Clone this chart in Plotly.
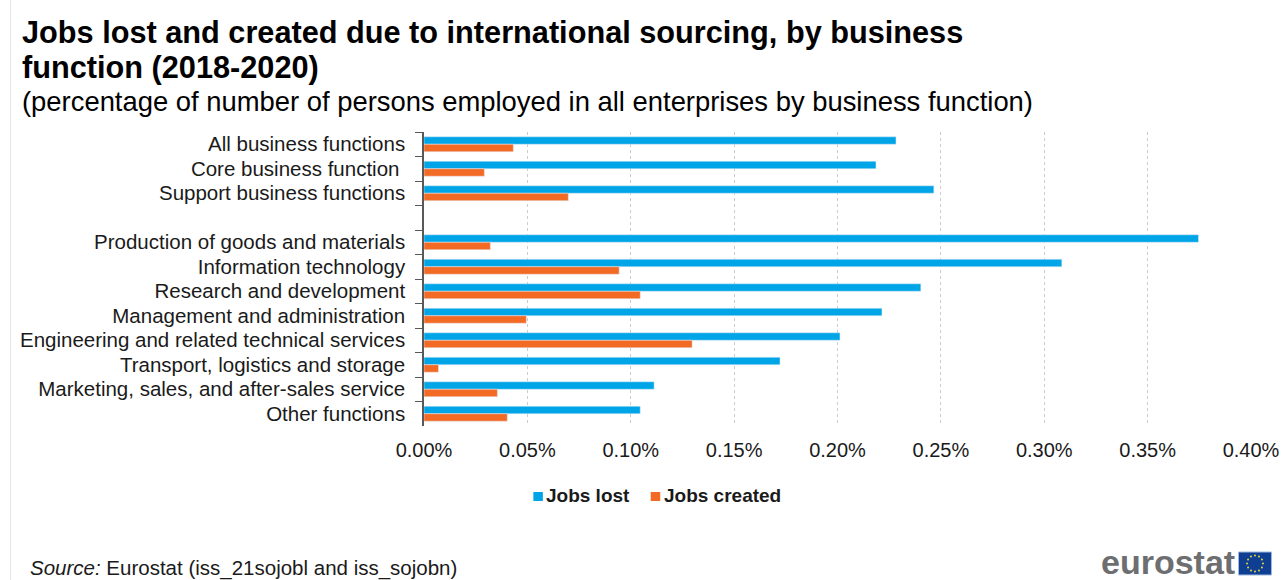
import math
import plotly.graph_objects as go

categories = [
    "All business functions", "Core business function\u00a0", "Support business functions", "\u00a0",
    "Production of goods and materials", "Information technology", "Research and development",
    "Management and administration", "Engineering and related technical services",
    "Transport, logistics and storage", "Marketing, sales, and after-sales service", "Other functions",
]
jobs_lost = [0.2283, 0.2186, 0.2466, None, 0.3746, 0.3085, 0.2403, 0.2215, 0.2012, 0.1722, 0.1113, 0.1046]
jobs_created = [0.0432, 0.0292, 0.0698, None, 0.0321, 0.0944, 0.1046, 0.0495, 0.1297, 0.0070, 0.0355, 0.0403]
x_ticks = [0, 0.05, 0.10, 0.15, 0.20, 0.25, 0.30, 0.35, 0.40]
x_tick_labels = ["0.00%", "0.05%", "0.10%", "0.15%", "0.20%", "0.25%", "0.30%", "0.35%", "0.40%"]

BLUE, ORANGE = "#00A5E8", "#F36A25"
FONT = "Liberation Sans"
W, H = 1287, 580
LEFT, RIGHT, TOP, BOTTOM = 423.5, 1251.5, 132, 426


def px(x):
    # page pixel to paper fraction of the plot area
    return (x - LEFT) / (RIGHT - LEFT)


def py(y):
    return 1 - (y - TOP) / (BOTTOM - TOP)


def text(x, y, s, size, color="#000000", anchor="left"):
    return dict(xref="paper", yref="paper", x=px(x), y=py(y), text=s, showarrow=False,
                xanchor=anchor, yanchor="middle", borderpad=0, borderwidth=0,
                font=dict(family=FONT, size=size, color=color))


def box(x0, y0, x1, y1, fill, line=None):
    return dict(type="rect", xref="paper", yref="paper", x0=px(x0), x1=px(x1), y0=py(y0), y1=py(y1),
                fillcolor=fill, line=dict(color=line, width=1) if line else dict(width=0))


fig = go.Figure()
fig.add_bar(y=categories, x=jobs_lost, name="Jobs lost", orientation="h", marker_color=BLUE)
fig.add_bar(y=categories, x=jobs_created, name="Jobs created", orientation="h", marker_color=ORANGE)

annotations = [
    text(21, 33, "<b>Jobs lost and created due to international sourcing, by business</b>", 30.7),
    text(21, 67, "<b>function (2018-2020)</b>", 30.7),
    text(21, 101.5, "(percentage of number of persons employed in all enterprises by business function)", 27.4),
    text(29, 568, "<i>Source:</i> Eurostat (iss_21sojobl and iss_sojobn)", 20.5, "#1a1a1a"),
    text(1101, 562, "<b>eurostat</b>", 34, "#6d6e70"),
    text(545.5, 495.5, "<b>Jobs lost</b>", 19, "#1a1a1a"),
    text(663.5, 495.5, "<b>Jobs created</b>", 19, "#1a1a1a"),
]

# EU flag beside the wordmark, legend swatches and the thin rule at the page edge
flag_x0, flag_x1, flag_y0, flag_y1 = 1239, 1272, 552, 575
shapes = [
    dict(type="line", xref="paper", yref="paper", x0=px(9.5), x1=px(9.5), y0=py(0), y1=py(580),
         line=dict(color="#e6e6e6", width=1)),
    box(533, 492, 542.5, 501, BLUE),
    box(650.5, 492, 660, 501, ORANGE),
    box(flag_x0, flag_y0, flag_x1, flag_y1, "#0F3F93", "#9db8dc"),
]
for i in range(12):
    a = math.radians(i * 30)
    cx, cy = (flag_x0 + flag_x1) / 2 + 8 * math.cos(a), (flag_y0 + flag_y1) / 2 + 8 * math.sin(a)
    shapes.append(dict(type="circle", xref="paper", yref="paper", x0=px(cx - 1), x1=px(cx + 1),
                       y0=py(cy - 1), y1=py(cy + 1), fillcolor="#E8D53A", line_width=0))

fig.update_layout(
    width=W, height=H, autosize=False, showlegend=False,
    margin=dict(l=LEFT, r=W - RIGHT, t=TOP, b=H - BOTTOM, pad=0),
    paper_bgcolor="white", plot_bgcolor="white",
    barmode="group", bargap=0.39, bargroupgap=0,
    font=dict(family=FONT, size=19, color="#1a1a1a"),
    annotations=annotations, shapes=shapes,
    xaxis=dict(range=[0, 0.4], tickmode="array", tickvals=x_ticks, ticktext=x_tick_labels, automargin=False,
               showline=False, zeroline=False, showgrid=True, gridcolor="#cccccc", griddash="dot",
               gridwidth=1, ticks="", tickfont_size=20, ticklabelstandoff=10),
    yaxis=dict(type="category", categoryorder="array", categoryarray=categories, autorange="reversed",
               tickmode="linear", dtick=1, tick0=0, automargin=False,
               tickson="boundaries", ticks="outside", ticklen=7, tickcolor="#595959", showline=True,
               linecolor="#595959", linewidth=1.5, showgrid=False, tickfont_size=20.5, ticklabelstandoff=13),
)
fig.write_html("out.html")
